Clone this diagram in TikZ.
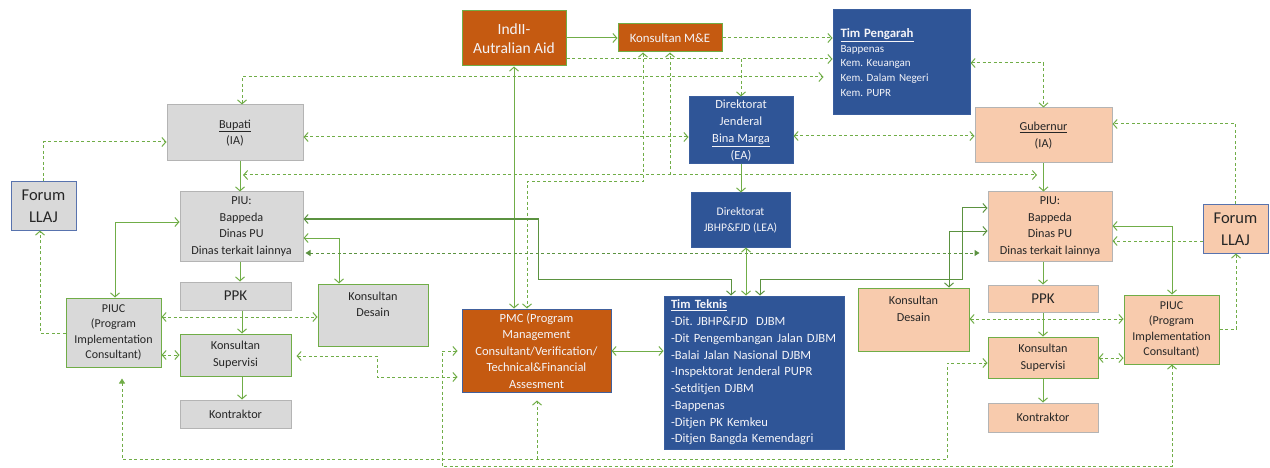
\documentclass[tikz,border=0pt]{standalone}
\usepackage{fontspec}
\setmainfont{Carlito}
\frenchspacing
\usetikzlibrary{arrows.meta}
\definecolor{lineg}{HTML}{70AD47}
\definecolor{lined}{HTML}{5B9240}
\definecolor{grayf}{HTML}{D9D9D9}
\definecolor{grayb}{HTML}{B4B4B4}
\definecolor{peachf}{HTML}{F8CBAD}
\definecolor{orangef}{HTML}{C55A11}
\definecolor{bluef}{HTML}{2F5597}
\definecolor{blueb}{HTML}{3A5E9E}
\definecolor{forumb}{HTML}{5873AE}
\definecolor{pmcb}{HTML}{41609C}
\definecolor{txt}{HTML}{262626}
\definecolor{wtxt}{HTML}{F4F4F8}
\tikzset{
  box/.style={draw, line width=1pt, inner sep=0pt, align=center, text=txt,
    font=\fontsize{12.2}{16.7}\selectfont},
  graybox/.style={box, fill=grayf, draw=grayb},
  greengray/.style={box, fill=grayf, draw=lineg},
  peachbox/.style={box, fill=peachf, draw=grayb},
  peachg/.style={box, fill=peachf, draw=lineg},
  orangebox/.style={box, fill=orangef, draw=lineg, text=wtxt},
  bluebox/.style={box, fill=bluef, draw=blueb, text=wtxt},
  conn/.style={draw=lineg, line width=1pt},
  conn2/.style={draw=lined, line width=1pt},
  dsh/.style={draw=lineg, line width=1pt, dash pattern=on 3pt off 2.5pt},
  dsh2/.style={draw=lined, line width=1pt, dash pattern=on 3pt off 2.5pt},
  >={Straight Barb[length=4pt,width=9pt]},
  ftri/.tip={Triangle[length=5pt,width=6pt]}
}
\begin{document}
\begin{tikzpicture}[x=1pt,y=-1pt]
\useasboundingbox (0,0) rectangle (1270,468);
% ---------- left side
\node[graybox, minimum width=136, minimum height=56] (Bupati) at (235,133) {\underline{Bupati}\\(IA)};
\node[box, fill=grayf, draw=forumb, minimum width=65, minimum height=48,
  font=\fontsize{16.5}{22}\selectfont] (ForumL) at (43.5,206) {Forum\\LLAJ};
\node[graybox, minimum width=123, minimum height=69] (PIUL) at (241.5,226.5) {PIU:\\Bappeda\\Dinas PU\\Dinas terkait lainnya};
\node[graybox, minimum width=111, minimum height=28, font=\fontsize{15}{18}\selectfont] (PPKL) at (235.5,296) {PPK};
\node[greengray, minimum width=110, minimum height=62] (DesainL) at (373,315) {Konsultan\\Desain\\\strut};
\node[greengray, minimum width=95, minimum height=69, font=\fontsize{12}{15.3}\selectfont] (PIUCL) at (113.5,332.5) {PIUC\\(Program\\Implementation\\Consultant)};
\node[greengray, minimum width=111, minimum height=42] (SupL) at (235.5,355) {Konsultan\\Supervisi};
\node[graybox, minimum width=111, minimum height=28] (KontrL) at (235.5,414) {Kontraktor};
% ---------- centre
\node[orangebox, minimum width=104, minimum height=55, font=\fontsize{15.5}{19.5}\selectfont] (IndII) at (514,38.5) {IndII-\\Autralian Aid};
\node[orangebox, minimum width=104, minimum height=28, font=\fontsize{12.8}{14}\selectfont] (ME) at (670,38) {Konsultan M\&E};
\node[bluebox, minimum width=137, minimum height=105, align=left, text width=122,
  font=\fontsize{11}{14.7}\selectfont] (TimP) at (901.5,62.5)
  {{\fontsize{12.8}{14.7}\selectfont\bfseries\underline{Tim Pengarah}}\\Bappenas\\Kem. Keuangan\\Kem. Dalam Negeri\\Kem. PUPR};
\node[bluebox, minimum width=104, minimum height=67, font=\fontsize{12.5}{16.8}\selectfont] (DJBM) at (741,130.5) {Direktorat\\Jenderal\\\underline{Bina Marga}\\(EA)};
\node[bluebox, minimum width=99, minimum height=54, font=\fontsize{11.6}{16}\selectfont] (JBHP) at (740.5,220) {Direktorat\\JBHP\&FJD (LEA)};
\node[orangebox, draw=pmcb, minimum width=149, minimum height=83, font=\fontsize{12.5}{16.5}\selectfont] (PMC) at (536.5,350.5) {PMC (Program\\Management\\Consultant/Verification/\\Technical\&Financial\\Assesment};
\node[bluebox, minimum width=180, minimum height=153, align=left, text width=166,
  font=\fontsize{12.6}{16.75}\selectfont] (TimT) at (754,372.5)
  {{\bfseries\underline{Tim Teknis}}\\-Dit. JBHP\&FJD\ \ DJBM\\-Dit Pengembangan Jalan DJBM\\-Balai Jalan Nasional DJBM\\-Inspektorat Jenderal PUPR\\-Setditjen DJBM\\-Bappenas\\-Ditjen PK Kemkeu\\-Ditjen Bangda Kemendagri};
% ---------- right side
\node[peachbox, minimum width=137, minimum height=55] (Gub) at (1043.5,135.5) {\underline{Gubernur}\\(IA)};
\node[peachbox, minimum width=124, minimum height=69] (PIUR) at (1050,226.5) {PIU:\\Bappeda\\Dinas PU\\Dinas terkait lainnya};
\node[box, fill=peachf, draw=forumb, minimum width=65, minimum height=48,
  font=\fontsize{16.5}{22}\selectfont] (ForumR) at (1235.5,229) {Forum\\LLAJ};
\node[peachbox, minimum width=110, minimum height=27, font=\fontsize{15}{18}\selectfont] (PPKR) at (1043,298.5) {PPK};
\node[peachg, minimum width=111, minimum height=63] (DesainR) at (913.5,319.5) {Konsultan\\Desain\\\strut};
\node[peachg, minimum width=95, minimum height=69, font=\fontsize{12}{15.3}\selectfont] (PIUCR) at (1171.5,329.5) {PIUC\\(Program\\Implementation\\Consultant)};
\node[peachg, minimum width=110, minimum height=41] (SupR) at (1043,357.5) {Konsultan\\Supervisi};
\node[peachbox, minimum width=110, minimum height=29] (KontrR) at (1043,417.5) {Kontraktor};
% ---------- free ends
\coordinate (L175) at (243,175);
\coordinate (R175) at (1037,175);
% ---------- connectors (top)
\draw[conn,->] (ME.west -| IndII.east) -- (ME.west);
\draw[dsh,->] (ME.east) -- (ME.east -| TimP.west);
\draw[dsh,->] (IndII.east |- 0,59) -- (TimP.west |- 0,59);
\draw[dsh,->] (DJBM.north |- 0,59) -- (DJBM.north);
\draw[dsh,<->,shorten >=9pt] (Bupati.north -| 242,0) -- (242,77) -- (TimP.west |- 0,77);
\draw[dsh,<->] (TimP.east |- 0,63) -- (Gub.north |- 0,63) -- (Gub.north);
\draw[dsh,<->] (Bupati.east |- 0,137) -- (DJBM.west |- 0,137);
\draw[dsh,<->] (DJBM.east |- 0,136) -- (Gub.west |- 0,136);
\draw[dsh,->] (ForumL.north) -- (ForumL.north |- 0,142) -- (Bupati.west |- 0,142);
\draw[conn,->] (Bupati.south -| 240,0) -- (PIUL.north -| 240,0);
\draw[dsh,<->] (L175) -- (R175);
\draw[dsh,->] (ME.south |- 0,175) -- (ME.south);
\draw[dsh,<->] (ME.south -| 643,0) -- (643,182) -- (527,182) -- (PMC.north -| 527,0);
\draw[conn,<->] (IndII.south) -- (PMC.north -| IndII.south);
\draw[conn2,<->] (PIUL.east |- 0,219) -- (538,219) -- (538,279) -- (731,279) -- (TimT.north -| 731,0);
\draw[conn,<->] (PIUL.east |- 0,238) -- (339,238) -- (DesainL.north -| 339,0);
\draw[dsh2,ftri-ftri,shorten >=8pt,shorten <=2pt] (PIUL.east |- 0,253) -- (PIUR.west |- 0,253);
\draw[conn2,<->] (PIUR.west |- 0,208) -- (962,208) -- (962,279) -- (760,279) -- (TimT.north -| 760,0);
\draw[conn2,<->] (PIUR.west |- 0,231) -- (949,231) -- (DesainR.north -| 949,0);
\draw[conn,->] (DJBM.south) -- (JBHP.north -| DJBM.south);
\draw[conn,<->] (JBHP.south -| 746,0) -- (TimT.north -| 746,0);
\draw[conn,<->] (PMC.east |- 0,351) -- (TimT.west |- 0,351);
% ---------- right side
\draw[conn,->] (Gub.south) -- (PIUR.north -| Gub.south);
\draw[dsh,->] (ForumR.north) -- (ForumR.north |- 0,124) -- (Gub.east |- 0,124);
\draw[dsh,->] (ForumR.west |- 0,241) -- (PIUR.east |- 0,241);
\draw[conn,<->] (PIUR.east |- 0,226) -- (1172,226) -- (PIUCR.north -| 1172,0);
\draw[conn,->] (PIUR.south -| PPKR.north) -- (PPKR.north);
\draw[conn,->] (PPKR.south) -- (SupR.north);
\draw[conn,->] (SupR.south) -- (KontrR.north);
\draw[dsh,<->] (DesainR.east |- 0,319) -- (PIUCR.west |- 0,319);
\draw[dsh,<->] (SupR.east |- 0,358) -- (PIUCR.west |- 0,358);
\draw[dsh,->] (PIUCR.east |- 0,329) -- (1236,329) -- (ForumR.south -| 1236,0);
% ---------- left side
\draw[conn,<->] (PIUL.west |- 0,222) -- (115,222) -- (PIUCL.north -| 115,0);
\draw[conn,->] (PIUL.south -| 240,0) -- (PPKL.north -| 240,0);
\draw[conn,->] (PPKL.south -| 242,0) -- (SupL.north -| 242,0);
\draw[conn,->] (SupL.south -| 242,0) -- (KontrL.north -| 242,0);
\draw[dsh,<->] (PIUCL.east |- 0,317) -- (DesainL.west |- 0,317);
\draw[dsh,<->] (PIUCL.east |- 0,355) -- (SupL.west |- 0,355);
\draw[dsh,->] (PIUCL.west |- 0,333) -- (40,333) -- (ForumL.south -| 40,0);
\draw[dsh,<->,shorten <=5pt,shorten >=4pt] (SupL.east |- 0,356) -- (377,356) -- (377,377) -- (PMC.west |- 0,377);
% ---------- bottom
\draw[dsh,ftri->,shorten <=11pt] (PIUCL.south -| 122,0) -- (122,459) -- (947,459) -- (947,363) -- (SupR.west |- 0,363);
\draw[dsh,->,shorten >=8pt] (537,459) -- (PMC.south -| 537,0);
\draw[dsh,<->,shorten <=4pt] (PMC.west |- 0,351) -- (442,351) -- (442,466.5) -- (1172,466.5) -- (PIUCR.south -| 1172,0);
\end{tikzpicture}
\end{document}
